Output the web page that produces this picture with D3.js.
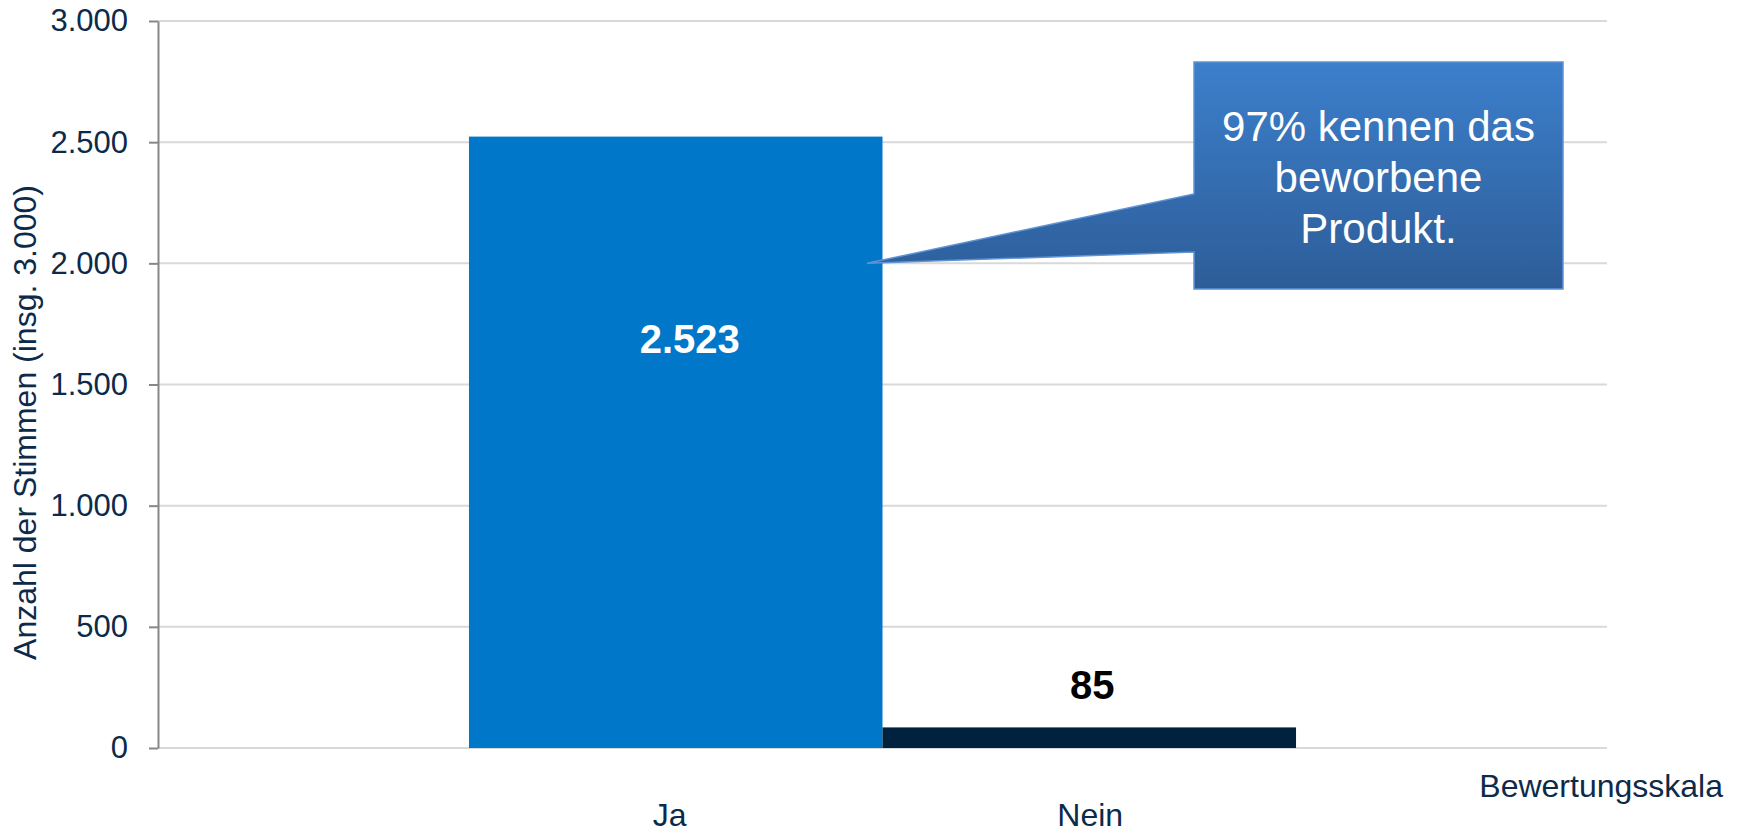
<!DOCTYPE html>
<html>
<head>
<meta charset="utf-8">
<script src="https://cdn.jsdelivr.net/npm/d3@7"></script>
<style>
  html, body { margin: 0; padding: 0; background: #fff; }
  svg { display: block; font-family: "Liberation Sans", Arial, sans-serif; }
</style>
</head>
<body>
<svg id="chart" width="1742" height="832"></svg>
<script>
// ---- data ----
const categories = ["Ja", "Nein"];
const values = [2523, 85];
const valueLabels = ["2.523", "85"];
const yTicks = [0, 500, 1000, 1500, 2000, 2500, 3000];
const yTickLabels = ["0", "500", "1.000", "1.500", "2.000", "2.500", "3.000"];
const yTitle = "Anzahl der Stimmen (insg. 3.000)";
const xTitle = "Bewertungsskala";
const calloutLines = ["97% kennen das", "beworbene", "Produkt."];
const calloutAnchorValue = 2000;

// ---- layout ----
const W = 1742, H = 832;
const plot = { left: 158, right: 1607, top: 21, bottom: 748 };
const textColor = "#0c2a4a";
const barColors = ["#0077c8", "#00223f"];
const labelColors = ["#ffffff", "#000000"];

const svg = d3.select("#chart");

const y = d3.scaleLinear().domain([0, 3000]).range([plot.bottom, plot.top]);
const x = d3.scaleBand().domain(categories)
  .range([plot.left, plot.right]).paddingInner(0).paddingOuter(0.752);

// gridlines
svg.append("g").selectAll("line").data(yTicks).join("line")
  .attr("x1", plot.left).attr("x2", plot.right)
  .attr("y1", d => y(d)).attr("y2", d => y(d))
  .attr("stroke", "#d9d9d9").attr("stroke-width", 2);

// bars
svg.append("g").selectAll("rect").data(values).join("rect")
  .attr("x", (d, i) => x(categories[i]))
  .attr("width", x.bandwidth())
  .attr("y", d => y(d))
  .attr("height", d => y(0) - y(d))
  .attr("fill", (d, i) => barColors[i]);

// y axis
const yAxis = d3.axisLeft(y).tickValues(yTicks)
  .tickFormat((d, i) => yTickLabels[i])
  .tickSizeInner(9).tickSizeOuter(0).tickPadding(21);
const gy = svg.append("g").attr("transform", `translate(${plot.left},0)`).call(yAxis);
gy.select(".domain").attr("stroke", "#878787").attr("stroke-width", 2);
gy.selectAll(".tick line").attr("stroke", "#878787").attr("stroke-width", 2);
gy.selectAll(".tick text").attr("fill", textColor)
  .style("font-size", "31px").style("font-family", "'Liberation Sans', Arial, sans-serif");

// x category labels
svg.append("g").selectAll("text").data(categories).join("text")
  .attr("x", (d, i) => x(d) + x.bandwidth() / 2 + (i === 0 ? -6 : 1))
  .attr("y", 826)
  .attr("text-anchor", "middle")
  .attr("fill", textColor)
  .style("font-size", "32px")
  .text(d => d);

// value labels
svg.append("g").selectAll("text").data(values).join("text")
  .attr("x", (d, i) => x(categories[i]) + x.bandwidth() / 2 + (i === 0 ? 14 : 3))
  .attr("y", (d, i) => i === 0 ? y(d) + 216 : y(d) - 28)
  .attr("text-anchor", "middle")
  .attr("fill", (d, i) => labelColors[i])
  .style("font-size", "40px").style("font-weight", "bold")
  .text((d, i) => valueLabels[i]);

// axis titles
svg.append("text")
  .attr("transform", `translate(36,${(188 + 657) / 2}) rotate(-90)`)
  .attr("text-anchor", "middle")
  .attr("fill", textColor)
  .style("font-size", "32px")
  .text(yTitle);

svg.append("text")
  .attr("x", 1723).attr("y", 797)
  .attr("text-anchor", "end")
  .attr("fill", textColor)
  .style("font-size", "32px")
  .text(xTitle);

// callout
const defs = svg.append("defs");
const box = { x0: 1194, x1: 1563, y0: 62, y1: 289 };
const tipX = 867, tipY = y(calloutAnchorValue);

const grad = defs.append("linearGradient").attr("id", "calloutGradU")
  .attr("gradientUnits", "userSpaceOnUse")
  .attr("x1", 0).attr("y1", box.y0).attr("x2", 0).attr("y2", box.y1);
grad.append("stop").attr("offset", "0%").attr("stop-color", "#3c7fcc");
grad.append("stop").attr("offset", "100%").attr("stop-color", "#2d5d98");

const calloutPath = d3.path();
calloutPath.moveTo(box.x0, box.y0);
calloutPath.lineTo(box.x1, box.y0);
calloutPath.lineTo(box.x1, box.y1);
calloutPath.lineTo(box.x0, box.y1);
calloutPath.lineTo(box.x0, 252);
calloutPath.lineTo(tipX, tipY);
calloutPath.lineTo(box.x0, 194);
calloutPath.closePath();

svg.append("path")
  .attr("d", calloutPath.toString())
  .attr("fill", "url(#calloutGradU)")
  .attr("stroke", "#5f93d3").attr("stroke-width", 1.5)
  .attr("stroke-linejoin", "miter");

svg.append("g").selectAll("text").data(calloutLines).join("text")
  .attr("x", (box.x0 + box.x1) / 2)
  .attr("y", (d, i) => 141 + i * 51)
  .attr("text-anchor", "middle")
  .attr("fill", "#ffffff")
  .style("font-size", "42px")
  .text(d => d);
</script>
</body>
</html>
